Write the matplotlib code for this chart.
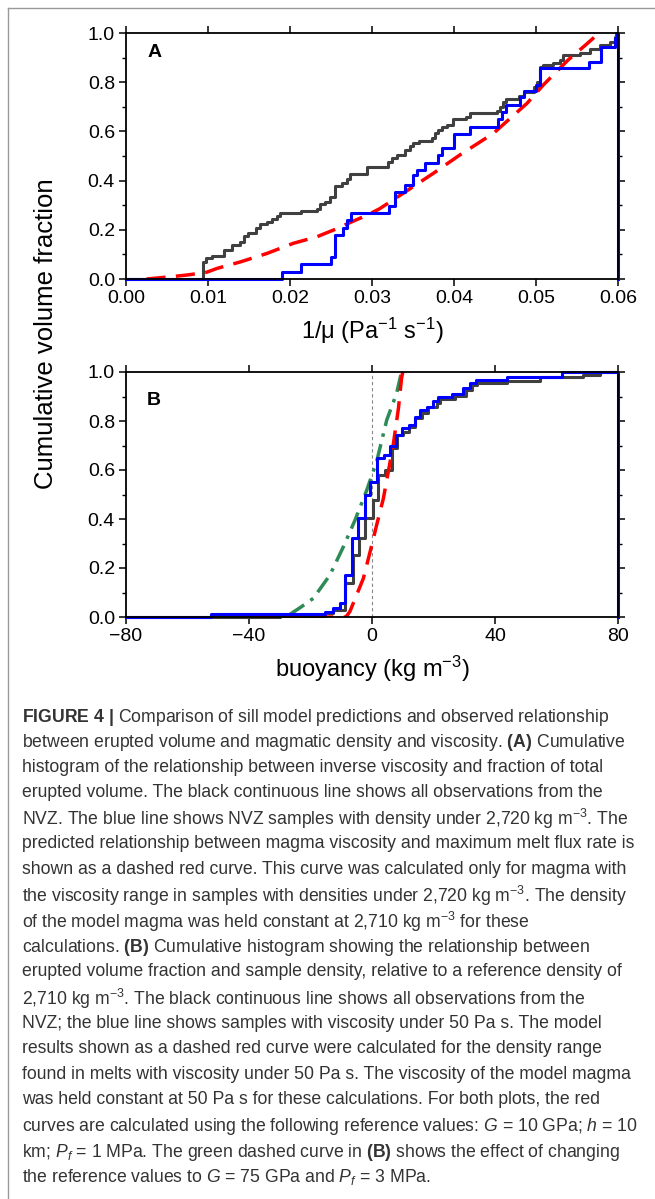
import matplotlib
matplotlib.use('Agg')
import matplotlib.pyplot as plt
from matplotlib.lines import Line2D
from matplotlib.ticker import MultipleLocator, FormatStrFormatter

cap_font = 'Liberation Sans'

plt.rcParams['font.family'] = ['Liberation Sans', 'DejaVu Sans']
plt.rcParams['mathtext.fontset'] = 'custom'
plt.rcParams['mathtext.rm'] = cap_font
plt.rcParams['mathtext.it'] = cap_font + ':italic'
plt.rcParams['mathtext.bf'] = cap_font + ':bold'

# ---- panel A: inverse viscosity (step positions, cumulative fraction after step)
a_all_x = [0.0, 0.0094, 0.0098, 0.0105, 0.0119, 0.0129, 0.0139, 0.0144, 0.0149, 0.0159,
           0.0163, 0.0172, 0.0178, 0.0184, 0.0188, 0.0214, 0.0233, 0.0237, 0.0243, 0.0249,
           0.0255, 0.0263, 0.0269, 0.0273, 0.0294, 0.0320, 0.0324, 0.0330, 0.0340, 0.0346,
           0.0350, 0.0357, 0.0373, 0.0377, 0.0381, 0.0385, 0.0391, 0.0399, 0.0415, 0.0420,
           0.0452, 0.0456, 0.0460, 0.0464, 0.0479, 0.0485, 0.0497, 0.0501, 0.0505, 0.0509,
           0.0521, 0.0529, 0.0533, 0.0554, 0.0566, 0.0578, 0.0590, 0.0596, 0.0598]
a_all_y = [0.0, 0.070, 0.084, 0.093, 0.118, 0.138, 0.152, 0.175, 0.186, 0.206,
           0.224, 0.233, 0.244, 0.256, 0.267, 0.276, 0.285, 0.304, 0.314, 0.335,
           0.378, 0.389, 0.407, 0.425, 0.457, 0.477, 0.493, 0.504, 0.524, 0.541,
           0.551, 0.562, 0.572, 0.592, 0.606, 0.617, 0.626, 0.649, 0.660, 0.673,
           0.684, 0.698, 0.721, 0.730, 0.744, 0.762, 0.782, 0.802, 0.863, 0.870,
           0.877, 0.890, 0.911, 0.917, 0.934, 0.951, 0.965, 0.985, 1.0]

a_low_x = [0.0, 0.0190, 0.0214, 0.0250, 0.0255, 0.0265, 0.0269, 0.0274, 0.0321, 0.0328,
           0.0340, 0.0350, 0.0355, 0.0365, 0.0381, 0.0385, 0.0400, 0.0420, 0.0454, 0.0459,
           0.0464, 0.0481, 0.0485, 0.0500, 0.0505, 0.0565, 0.0579, 0.0596, 0.0599]
a_low_y = [0.0, 0.030, 0.060, 0.091, 0.179, 0.206, 0.240, 0.267, 0.297, 0.355,
           0.382, 0.423, 0.443, 0.470, 0.504, 0.531, 0.589, 0.619, 0.649, 0.680,
           0.707, 0.738, 0.766, 0.789, 0.856, 0.883, 0.942, 0.978, 1.0]

a_model_x = [0.0025, 0.0054, 0.0074, 0.0098, 0.0111, 0.0140, 0.0172, 0.0204, 0.0233, 0.0253,
             0.0277, 0.0293, 0.0309, 0.0326, 0.0350, 0.0375, 0.0407, 0.0448, 0.0489, 0.0509,
             0.0539, 0.0560, 0.0577]
a_model_y = [0.0, 0.009, 0.016, 0.027, 0.043, 0.070, 0.104, 0.145, 0.172, 0.199,
             0.235, 0.258, 0.285, 0.322, 0.375, 0.430, 0.504, 0.592, 0.714, 0.789,
             0.890, 0.950, 1.0]

# ---- panel B: buoyancy
b_all_x = [-80, -30, -15.3, -12.6, -8.8, -6.2, -4.2, -2.3, 0.2, 2.1,
           4.2, 6.4, 8.0, 10.0, 12.1, 14.0, 16.2, 18.3, 21.0, 22.1,
           27.0, 30.6, 32.4, 34.0, 43.8, 54.6, 68.5, 74.1]
b_all_y = [0.0, 0.005, 0.015, 0.030, 0.140, 0.253, 0.321, 0.403, 0.478, 0.580,
           0.600, 0.688, 0.743, 0.756, 0.777, 0.811, 0.831, 0.858, 0.875, 0.888,
           0.902, 0.927, 0.947, 0.956, 0.965, 0.981, 0.988, 1.0]

b_low_x = [-80, -52.4, -15.3, -12.6, -10.4, -8.8, -6.6, -4.4, -2.3, -0.6,
           1.6, 3.9, 5.9, 7.9, 9.8, 11.9, 14.0, 15.6, 17.8, 19.7,
           21.6, 25.9, 29.7, 31.9, 33.8, 43.8, 61.7]
b_low_y = [0.0, 0.011, 0.022, 0.038, 0.056, 0.171, 0.321, 0.403, 0.498, 0.552,
           0.648, 0.661, 0.698, 0.743, 0.770, 0.784, 0.818, 0.845, 0.858, 0.883,
           0.897, 0.909, 0.933, 0.954, 0.967, 0.981, 1.0]

b_model_x = [-38, -8.5, -7.2, -5.0, -2.8, -0.6, 1.5, 3.7, 5.3, 6.9, 8.6, 9.6, 10.0]
b_model_y = [0.0, 0.0, 0.022, 0.090, 0.158, 0.267, 0.375, 0.484, 0.593, 0.702, 0.852, 0.974, 1.0]

b_alt_x = [-50, -28, -23.4, -19.1, -13.7, -9.3, -5.5, -1.7, 1.5, 4.8, 8.0, 9.6]
b_alt_y = [0.0, 0.0, 0.038, 0.076, 0.171, 0.287, 0.396, 0.518, 0.634, 0.804, 0.913, 1.0]

caption_lines = [
    r"$\mathbf{FIGURE\ 4\ |}$ Comparison of sill model predictions and observed relationship",
    r"between erupted volume and magmatic density and viscosity. $\mathbf{(A)}$ Cumulative",
    r"histogram of the relationship between inverse viscosity and fraction of total",
    r"erupted volume. The black continuous line shows all observations from the",
    r"NVZ. The blue line shows NVZ samples with density under 2,720 kg m$^{-3}$. The",
    r"predicted relationship between magma viscosity and maximum melt flux rate is",
    r"shown as a dashed red curve. This curve was calculated only for magma with",
    r"the viscosity range in samples with densities under 2,720 kg m$^{-3}$. The density",
    r"of the model magma was held constant at 2,710 kg m$^{-3}$ for these",
    r"calculations. $\mathbf{(B)}$ Cumulative histogram showing the relationship between",
    r"erupted volume fraction and sample density, relative to a reference density of",
    r"2,710 kg m$^{-3}$. The black continuous line shows all observations from the",
    r"NVZ; the blue line shows samples with viscosity under 50 Pa s. The model",
    r"results shown as a dashed red curve were calculated for the density range",
    r"found in melts with viscosity under 50 Pa s. The viscosity of the model magma",
    r"was held constant at 50 Pa s for these calculations. For both plots, the red",
    r"curves are calculated using the following reference values: $G$ = 10 GPa; $h$ = 10",
    r"km; $P_f$ = 1 MPa. The green dashed curve in $\mathbf{(B)}$ shows the effect of changing",
    r"the reference values to $G$ = 75 GPa and $P_f$ = 3 MPa.",
]

W, H = 655, 1199
fig = plt.figure(figsize=(W / 100, H / 100), dpi=100)
fig.patch.set_facecolor('white')

ax_a = fig.add_axes([126 / W, 1 - 279 / H, 492 / W, 246 / H])
ax_b = fig.add_axes([126 / W, 1 - 617 / H, 492 / W, 245 / H])

c_all = '#404040'
c_low = '#0000ff'
c_red = '#ff0000'
c_green = '#2e8b57'

# panel A
ax_a.step(a_all_x + [0.06], a_all_y + [a_all_y[-1]], where='post', color=c_all, lw=2.2, clip_on=False)
ax_a.plot(a_model_x, a_model_y, color=c_red, lw=2.5, dashes=(5.5, 3))
ax_a.step(a_low_x + [0.06, 0.06], a_low_y + [a_low_y[-1], 0.0], where='post', color=c_low, lw=2.2, clip_on=False)
ax_a.set_xlim(0, 0.06)
ax_a.xaxis.set_major_locator(MultipleLocator(0.01))
ax_a.xaxis.set_major_formatter(FormatStrFormatter('%.2f'))
ax_a.set_xlabel('1/\u03bc (Pa$^{-1}$ s$^{-1}$)', fontsize=17, labelpad=6)
ax_a.text(0.043, 0.919, 'A', transform=ax_a.transAxes, fontsize=14, fontweight='bold', va='center')

# panel B
ax_b.axvline(0, color='#888888', lw=0.8, dashes=(3, 2.5), zorder=1)
ax_b.step(b_all_x + [80], b_all_y + [b_all_y[-1]], where='post', color=c_all, lw=2.2, clip_on=False)
ax_b.plot(b_alt_x, b_alt_y, color=c_green, lw=2.5, dashes=(5, 2.2, 1, 2.2))
ax_b.plot(b_model_x, b_model_y, color=c_red, lw=2.5, dashes=(5.5, 3))
ax_b.step(b_low_x + [80, 80], b_low_y + [b_low_y[-1], 0.0], where='post', color=c_low, lw=2.2, clip_on=False)
ax_b.set_xlim(-80, 80)
ax_b.xaxis.set_major_locator(MultipleLocator(40))
ax_b.set_xlabel(r'buoyancy (kg m$^{-3}$)', fontsize=17, labelpad=6)
ax_b.text(0.043, 0.882, 'B', transform=ax_b.transAxes, fontsize=14, fontweight='bold', va='center')

for ax in (ax_a, ax_b):
    ax.set_ylim(0, 1)
    ax.yaxis.set_major_locator(MultipleLocator(0.2))
    ax.yaxis.set_minor_locator(MultipleLocator(0.1))
    ax.yaxis.set_major_formatter(FormatStrFormatter('%.1f'))
    ax.tick_params(which='major', direction='out', length=5, width=1.1, labelsize=14,
                   top=True, right=True, pad=3)
    ax.tick_params(which='minor', direction='out', length=3, width=1.0, top=False, right=True)
    for s in ax.spines.values():
        s.set_linewidth(1.3)

fig.text(46 / W, 1 - 334 / H, 'Cumulative volume fraction', rotation=90,
         fontsize=18.5, ha='center', va='center')

# caption, one text per printed line
y0 = 714
for i, line in enumerate(caption_lines):
    fig.text(22 / W, 1 - (y0 + i * 25.6) / H, line, fontsize=12.7, family=[cap_font, 'DejaVu Sans'],
             ha='left', va='center_baseline', color='#333333')

# thin frame on the left and top
fig.add_artist(Line2D([7.5 / W, 7.5 / W], [0, 1 - 8 / H], color='#999999', lw=1.0))
fig.add_artist(Line2D([7.5 / W, 1], [1 - 8 / H, 1 - 8 / H], color='#999999', lw=1.0))

fig.savefig('out.png', dpi=100)
